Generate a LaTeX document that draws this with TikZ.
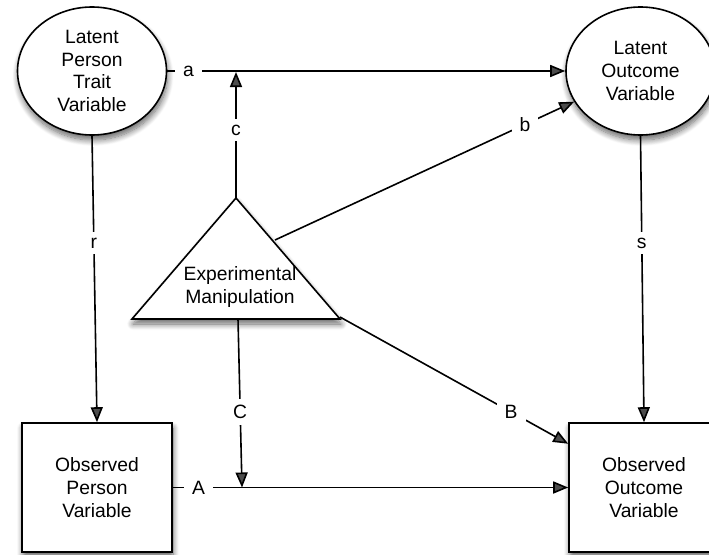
\documentclass[tikz,border=0pt]{standalone}
\usepackage{fontspec}
\setmainfont{Liberation Sans}
\usetikzlibrary{shapes.geometric,arrows.meta,shadows.blur}
\tikzset{
  shd/.style={blur shadow={shadow xshift=1pt,shadow yshift=-5pt,shadow blur radius=6pt,shadow blur steps=10,shadow opacity=60}},
  latent/.style={ellipse,draw,line width=1.6pt,fill=white,shd,minimum width=149pt,minimum height=128pt,inner sep=0pt,align=center,font=\fontsize{19.3}{22.6}\selectfont},
  observed/.style={rectangle,draw,line width=1.6pt,fill=white,shd,minimum width=150pt,minimum height=129pt,inner sep=0pt,align=center,font=\fontsize{19.3}{22.6}\selectfont},
  conn/.style={line width=1.6pt,-{Triangle[length=15pt,width=12pt]}},
  lbl/.style={fill=white,inner xsep=8pt,inner ysep=6pt,font=\fontsize{19.3}{22.6}\selectfont},
}
\begin{document}
\begin{tikzpicture}[x=1pt,y=-1pt]
\useasboundingbox (0,0) rectangle (709,554);
% nodes
\node[latent] (lpt) at (92,71) {Latent\\Person\\Trait\\Variable};
\node[latent] (lot) at (640.5,71) {Latent\\Outcome\\Variable};
\node[observed] (lpb) at (97,487.5) {Observed\\Person\\Variable};
\node[observed] (lob) at (644,487.5) {Observed\\Outcome\\Variable};
% triangle
\coordinate (apex) at (236,198);
\coordinate (tbl) at (132,319);
\coordinate (tbr) at (340,319);
\draw[line width=1.6pt,fill=white,shd,line join=miter] (apex) -- (tbl) -- (tbr) -- cycle;
\node[align=center,inner sep=0pt,font=\fontsize{19.3}{22.6}\selectfont] (em) at (240,287) {Experimental\\Manipulation};
\coordinate (bstart) at (275,240);
\coordinate (Cstart) at (238,319);
\coordinate (Bstart) at (340,317);
\coordinate (cend) at (236,72);
\coordinate (Cend) at (242,487.5);
% connectors
\draw[conn] (lpt.east) -- node[lbl,pos=0.053] {a} (lot.west);
\draw[conn] (apex) -- node[lbl,pos=0.54] {c} (cend);
\draw[conn] (bstart) -- node[lbl,pos=0.836] {b} (lot);
\draw[conn] (lpt.south) -- node[lbl,pos=0.375] {r} (lpb.north);
\draw[conn] (lot.south) -- node[lbl,pos=0.375] {s} (lob.north);
\draw[conn] (lpb.east) -- node[lbl,pos=0.065] {A} (lob.west);
\draw[conn] (Cstart) -- node[lbl,pos=0.55] {C} (Cend);
\draw[conn] (Bstart) -- node[lbl,pos=0.75] {B} (lob.150);
\end{tikzpicture}
\end{document}
